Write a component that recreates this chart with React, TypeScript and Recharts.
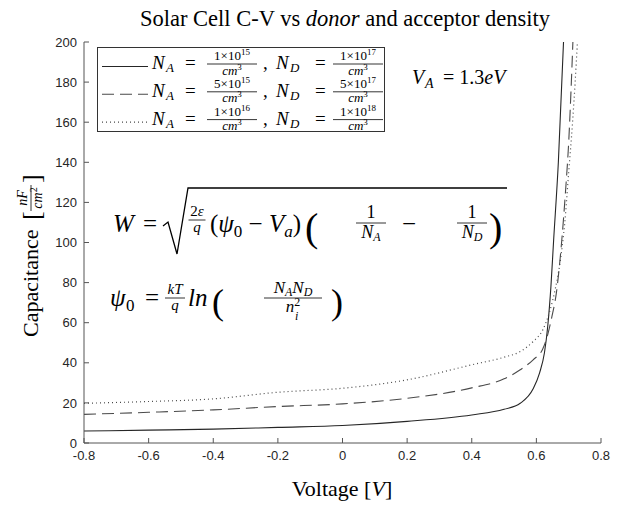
import React from 'react';
import { LineChart, Line, XAxis, YAxis, Legend } from 'recharts';

// axis ticks
const voltTicks = [-0.8, -0.6, -0.4, -0.2, 0, 0.2, 0.4, 0.6, 0.8];
const capTicks = [0, 20, 40, 60, 80, 100, 120, 140, 160, 180, 200];

// N_A = 1e15, N_D = 1e17 (solid)
const lowV = [-0.8, -0.6, -0.4, -0.2, 0, 0.2, 0.4, 0.5, 0.55, 0.59, 0.61, 0.625, 0.635, 0.645, 0.653, 0.668, 0.684];
const lowC = [6, 6.4, 6.9, 7.8, 8.7, 10.8, 14, 16.8, 19.8, 27, 35, 45, 58, 78, 100, 140, 200];

// N_A = 5e15, N_D = 5e17 (dashed)
const midV = [-0.8, -0.6, -0.4, -0.2, 0, 0.2, 0.4, 0.5, 0.55, 0.59, 0.62, 0.635, 0.648, 0.662, 0.678, 0.69, 0.7, 0.707, 0.713];
const midC = [14.3, 15.3, 16.5, 18.2, 19.5, 22.3, 27.5, 32, 36.5, 41.5, 47, 54, 63, 75, 100, 125, 150, 175, 200];

// N_A = 1e16, N_D = 1e18 (dotted)
const highV = [-0.8, -0.6, -0.4, -0.2, 0, 0.2, 0.4, 0.5, 0.55, 0.59, 0.62, 0.64, 0.66, 0.675, 0.688, 0.7, 0.712, 0.72, 0.727];
const highC = [19.8, 20.7, 22, 25.3, 27.3, 31.5, 39, 42.8, 45.6, 50.6, 56.5, 65, 78, 92, 110, 135, 160, 180, 200];

// legend labels
const acceptorMant = ['1', '5', '1'];
const acceptorExp = ['15', '15', '16'];
const donorMant = ['1', '5', '1'];
const donorExp = ['17', '17', '18'];

const toPoints = (v: number[], c: number[]) => v.map((x, i) => ({ v: x, c: c[i] }));

const series = [
  { key: 'low', data: toPoints(lowV, lowC), color: '#262626', dash: undefined as string | undefined, width: 1.1 },
  { key: 'mid', data: toPoints(midV, midC), color: '#4a4a4a', dash: '12 6', width: 1.1 },
  { key: 'high', data: toPoints(highV, highC), color: '#4a4a4a', dash: '1 3', width: 1.2 },
];

const SERIF = "'Liberation Serif', 'DejaVu Serif', serif";
const SANS = "'Liberation Sans', Arial, sans-serif";

type FracProps = { cx: number; y: number; num: React.ReactNode; den: React.ReactNode; size: number; barW: number };
const Frac = ({ cx, y, num, den, size, barW }: FracProps) => (
  <g>
    <text x={cx} y={y - size * 0.28} textAnchor="middle" fontSize={size}>{num}</text>
    <line x1={cx - barW / 2} x2={cx + barW / 2} y1={y} y2={y} stroke="#000" strokeWidth={0.8} />
    <text x={cx} y={y + size * 0.82} textAnchor="middle" fontSize={size}>{den}</text>
  </g>
);

const LegendBox = () => (
  <svg width={288} height={85} style={{ display: 'block', fontFamily: SERIF }}>
    <rect x={0.5} y={0.5} width={287} height={84} fill="#fff" stroke="#333" strokeWidth={1} />
    {series.map((s, i) => {
      const b = 22 + i * 27.8;
      return (
        <g key={s.key}>
          <line x1={5} x2={51} y1={b - 2.5} y2={b - 2.5} stroke={s.color} strokeWidth={s.width} strokeDasharray={s.dash} />
          <text x={55} y={b} fontSize={19} fontStyle="italic">N</text>
          <text x={69} y={b + 3} fontSize={13} fontStyle="italic">A</text>
          <text x={88} y={b} fontSize={19}>=</text>
          <Frac cx={135} y={b - 5} size={13} barW={50}
            num={<><tspan>{acceptorMant[i]}×10</tspan><tspan fontSize={9} dy={-5}>{acceptorExp[i]}</tspan></>}
            den={<><tspan fontStyle="italic">cm</tspan><tspan fontSize={9} dy={-5}>3</tspan></>} />
          <text x={166} y={b} fontSize={19}>,</text>
          <text x={179} y={b} fontSize={19} fontStyle="italic">N</text>
          <text x={193} y={b + 3} fontSize={13} fontStyle="italic">D</text>
          <text x={218} y={b} fontSize={19}>=</text>
          <Frac cx={261} y={b - 5} size={13} barW={50}
            num={<><tspan>{donorMant[i]}×10</tspan><tspan fontSize={9} dy={-5}>{donorExp[i]}</tspan></>}
            den={<><tspan fontStyle="italic">cm</tspan><tspan fontSize={9} dy={-5}>3</tspan></>} />
        </g>
      );
    })}
  </svg>
);

const Overlay = () => (
  <svg width={629} height={506} style={{ position: 'absolute', left: 0, top: 0, pointerEvents: 'none', fontFamily: SERIF }}>
    {/* title */}
    <text x={345} y={26} textAnchor="middle" fontSize={22.5}>
      Solar Cell C-V vs <tspan fontStyle="italic">donor</tspan> and acceptor density
    </text>
    {/* x label */}
    <text x={342} y={496} textAnchor="middle" fontSize={22}>
      Voltage [<tspan fontStyle="italic">V</tspan>]
    </text>
    {/* y label */}
    <g transform="translate(38,240) rotate(-90)">
      <text x={-97} y={0} fontSize={22}>Capacitance</text>
      <text x={20} y={2} fontSize={26}>[</text>
      <Frac cx={42} y={-7} size={14} barW={26}
        num={<tspan fontStyle="italic">nF</tspan>}
        den={<><tspan fontStyle="italic">cm</tspan><tspan fontSize={10} dy={-5}>2</tspan></>} />
      <text x={57} y={2} fontSize={26}>]</text>
    </g>
    {/* V_A */}
    <text x={412} y={84} fontSize={20} fontStyle="italic">V</text>
    <text x={425} y={88} fontSize={14} fontStyle="italic">A</text>
    <text x={443} y={84} fontSize={20}>= 1.3<tspan fontStyle="italic">eV</tspan></text>
    {/* W equation */}
    <g>
      <text x={113} y={232} fontSize={25} fontStyle="italic">W</text>
      <text x={143} y={232} fontSize={25}>=</text>
      <path d="M163,226 L168,222 L177,254 L188,188 L507,188" fill="none" stroke="#000" strokeWidth={1.3} />
      <Frac cx={197} y={220} size={15} barW={17} num={<><tspan>2</tspan><tspan fontStyle="italic">ε</tspan></>} den={<tspan fontStyle="italic">q</tspan>} />
      <text x={210} y={232} fontSize={25}>
        (<tspan fontStyle="italic">ψ</tspan><tspan fontSize={17} dy={5}>0</tspan>
        <tspan dy={-5}> − </tspan><tspan fontStyle="italic">V</tspan><tspan fontSize={17} dy={5} fontStyle="italic">a</tspan><tspan dy={-5}>)</tspan>
      </text>
      <text x={305} y={241} fontSize={40}>(</text>
      <Frac cx={371} y={223} size={18} barW={30} num="1" den={<><tspan fontStyle="italic">N</tspan><tspan fontSize={12} dy={3} fontStyle="italic">A</tspan></>} />
      <text x={402} y={232} fontSize={25}>−</text>
      <Frac cx={472} y={223} size={18} barW={30} num="1" den={<><tspan fontStyle="italic">N</tspan><tspan fontSize={12} dy={3} fontStyle="italic">D</tspan></>} />
      <text x={489} y={241} fontSize={40}>)</text>
    </g>
    {/* psi0 equation */}
    <g>
      <text x={110} y={306} fontSize={25} fontStyle="italic">ψ</text>
      <text x={126} y={311} fontSize={17}>0</text>
      <text x={145} y={306} fontSize={25}>=</text>
      <Frac cx={175} y={298} size={15} barW={20} num={<tspan fontStyle="italic">kT</tspan>} den={<tspan fontStyle="italic">q</tspan>} />
      <text x={188} y={306} fontSize={25} fontStyle="italic">ln</text>
      <text x={212} y={314} fontSize={36}>(</text>
      <Frac cx={293} y={298} size={17} barW={58}
        num={<><tspan fontStyle="italic">N</tspan><tspan fontSize={12} dy={3} fontStyle="italic">A</tspan><tspan fontStyle="italic" dy={-3}>N</tspan><tspan fontSize={12} dy={3} fontStyle="italic">D</tspan></>}
        den={<><tspan fontStyle="italic">n</tspan><tspan fontSize={12} dy={-6}>2</tspan></>} />
      <text x={295} y={320} fontSize={12} fontStyle="italic">i</text>
      <text x={331} y={314} fontSize={36}>)</text>
    </g>
  </svg>
);

export default function App() {
  return (
    <div style={{ position: 'relative', width: 629, height: 506, background: '#fff' }}>
      <style>{`body{margin:0;background:#fff}`}</style>
      <LineChart width={629} height={506} margin={{ top: 42, right: 28, left: 10, bottom: 33 }}>
        <XAxis
          dataKey="v"
          type="number"
          domain={[-0.8, 0.8]}
          ticks={voltTicks}
          allowDataOverflow
          tickSize={-5}
          tickMargin={13}
          height={30}
          stroke="#555"
          tick={{ fill: '#262626', fontSize: 13, fontFamily: SANS }}
        />
        <YAxis
          type="number"
          domain={[0, 200]}
          ticks={capTicks}
          allowDataOverflow
          tickSize={-5}
          tickMargin={12}
          width={74}
          stroke="#555"
          tick={{ fill: '#262626', fontSize: 13, fontFamily: SANS }}
        />
        <Legend
          layout="vertical"
          align="center"
          verticalAlign="middle"
          content={() => <LegendBox />}
          wrapperStyle={{ position: 'absolute', left: 97, top: 47, width: 288, height: 85 }}
        />
        {series.map((s) => (
          <Line
            key={s.key}
            data={s.data}
            dataKey="c"
            type="monotone"
            stroke={s.color}
            strokeWidth={s.width}
            strokeDasharray={s.dash}
            dot={false}
            isAnimationActive={false}
          />
        ))}
      </LineChart>
      <Overlay />
    </div>
  );
}
